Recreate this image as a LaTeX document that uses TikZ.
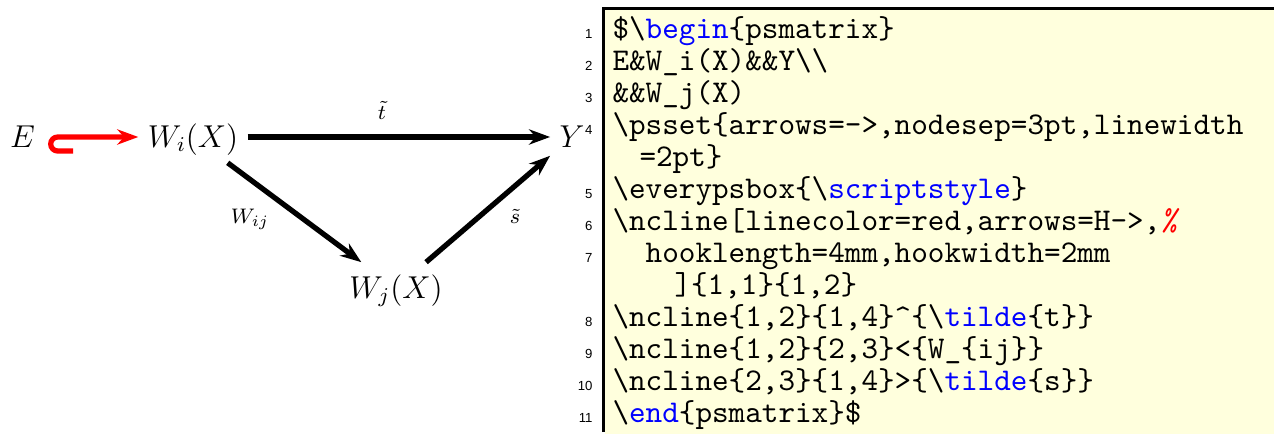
\documentclass[tikz,border=0pt]{standalone}
\usepackage{fontspec}
\newfontfamily\numfont{Liberation Sans}
\newfontfamily\codefont{lmmono10-regular}[Extension=.otf,ItalicFont=lmmono10-italic]
\usetikzlibrary{arrows.meta,calc}
\definecolor{codebg}{RGB}{255,255,221}
\definecolor{kwblue}{RGB}{0,0,255}
\begin{document}
\begin{tikzpicture}[x=0.3795pt,y=-0.3795pt,
  mathnode/.style={anchor=base,inner sep=0pt,outer sep=3.6pt,text height=10pt,text depth=2.4pt,font=\fontsize{12}{14}\selectfont},
  lbl/.style={inner sep=0pt,font=\fontsize{12}{14}\selectfont},
  conn/.style={line width=2pt,-{Stealth[length=8pt,width=5.8pt,inset=2.6pt]}},
  hookconn/.style={conn,red},
  code/.style={anchor=base west,inner sep=0pt,font=\fontsize{12}{12}\selectfont\codefont},
  lno/.style={anchor=base east,inner sep=0pt,font=\fontsize{5}{6}\selectfont\numfont}]
\useasboundingbox (0,0) rectangle (1274,434);
% listing background and frame
\fill[codebg] (605,10) rectangle (1274,434);
\draw[line width=1.14pt] (603.5,432) -- (603.5,8.5) -- (1274,8.5);
% diagram nodes
\node[mathnode] (E)  at (22.5,147) {$E$};
\node[mathnode] (Wi) at (193,147) {$W_i(X)$};
\node[mathnode] (Y)  at (572,147) {$Y$};
\node[mathnode] (Wj) at (396,298) {$W_j(X)$};
% connectors
\coordinate (hk) at (73,151);
\draw[hookconn] (hk) -- (57.7,151) arc[start angle=90,end angle=270,radius=7] -- (Wi);
\draw[conn] (Wi) -- (Y);
\draw[conn] (Wi) -- (Wj);
\draw[conn] (Wj) -- (Y);
% labels
\node[lbl] (lt) at (382,110) {$\scriptstyle\tilde{t}$};
\node[lbl] (lw) at (250,219) {$\scriptstyle W_{ij}$};
\node[lbl] (ls) at (515,216) {$\scriptstyle\tilde{s}$};
% code lines
\node[code] (c1)  at (612,38)  {\$\textbackslash\textcolor{kwblue}{begin}\{psmatrix\}};
\node[code] (c2)  at (612,70)  {E\&W\_i(X)\&\&Y\textbackslash\textbackslash};
\node[code] (c3)  at (612,102) {\&\&W\_j(X)};
\node[code] (c4)  at (612,134) {\textbackslash psset\{arrows=->,nodesep=3pt,linewidth};
\node[code] (c4b) at (639,166) {=2pt\}};
\node[code] (c5)  at (612,198) {\textbackslash everypsbox\{\textbackslash\textcolor{kwblue}{scriptstyle}\}};
\node[code] (c6)  at (612,230) {\textbackslash ncline[linecolor=red,arrows=H->,\textcolor{red}{\itshape\%}};
\node[code] (c7)  at (612,262) {\phantom{xx}hooklength=4mm,hookwidth=2mm};
\node[code] (c7b) at (674,294) {]\{1,1\}\{1,2\}};
\node[code] (c8)  at (612,326) {\textbackslash ncline\{1,2\}\{1,4\}\textasciicircum\{\textbackslash\textcolor{kwblue}{tilde}\{t\}\}};
\node[code] (c9)  at (612,358) {\textbackslash ncline\{1,2\}\{2,3\}<\{W\_\{ij\}\}};
\node[code] (c10) at (612,390) {\textbackslash ncline\{2,3\}\{1,4\}>\{\textbackslash\textcolor{kwblue}{tilde}\{s\}\}};
\node[code] (c11) at (612,422) {\textbackslash\textcolor{kwblue}{end}\{psmatrix\}\$};
% line numbers
\node[lno] (n1)  at (593,38)  {1};
\node[lno] (n2)  at (593,70)  {2};
\node[lno] (n3)  at (593,102) {3};
\node[lno] (n4)  at (593,134) {4};
\node[lno] (n5)  at (593,198) {5};
\node[lno] (n6)  at (593,230) {6};
\node[lno] (n7)  at (593,262) {7};
\node[lno] (n8)  at (593,326) {8};
\node[lno] (n9)  at (593,358) {9};
\node[lno] (n10) at (593,390) {10};
\node[lno] (n11) at (593,422) {11};
\end{tikzpicture}
\end{document}
